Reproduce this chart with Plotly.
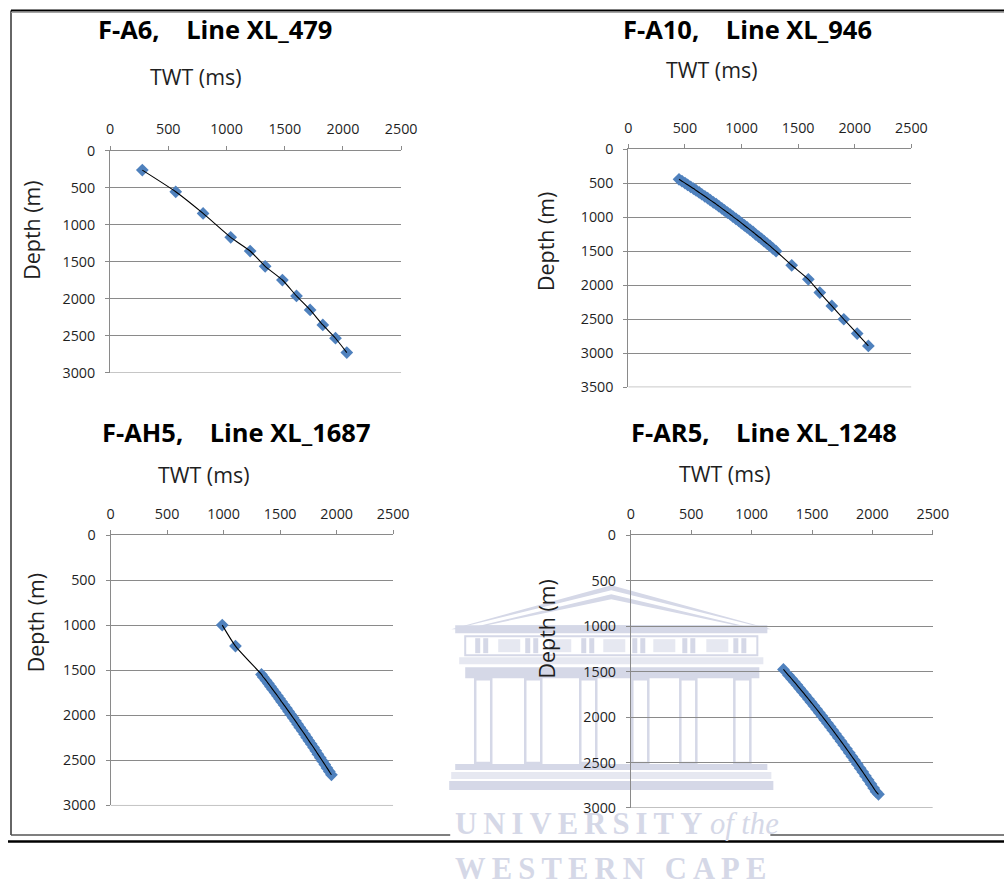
import plotly.graph_objects as go

# Layout is specified in page pixels; the rendered page comes out at 98 %
# with an 8 px top offset, so page pixels are converted back to figure pixels.
PAGE_W, PAGE_H = 1004, 884
S, OX, OY = 0.98, 1.0, 8.0
W = round((PAGE_W - OX) / S)
H = round((PAGE_H - OY) / S)

# ---- Time-depth pairs per well: two-way time (ms) and depth (m) ----
a6_twt = [277, 564, 799, 1036, 1203, 1332, 1480, 1601, 1718, 1827, 1936, 2033]
a6_depth = [261, 554, 847, 1171, 1356, 1563, 1748, 1964, 2153, 2356, 2536, 2730]

a10_twt = [448, 474, 501, 524, 551, 576, 599, 626, 649, 676,
           701, 724, 751, 776, 799, 826, 849, 876, 901, 924,
           951, 976, 999, 1026, 1049, 1076, 1101, 1124, 1151, 1176,
           1199, 1226, 1251, 1276, 1305, 1443, 1590, 1691, 1797, 1903,
           2021, 2120]
a10_depth = [441, 469, 497, 522, 551, 577, 605, 635, 661, 691,
             719, 747, 779, 806, 836, 869, 897, 930, 959, 990,
             1024, 1053, 1085, 1120, 1150, 1185, 1216, 1250, 1286, 1317,
             1352, 1388, 1421, 1458, 1499, 1706, 1912, 2108, 2304, 2500,
             2711, 2892]

ah5_twt = [988, 1105, 1335, 1352, 1375, 1396, 1415, 1433, 1455, 1476,
           1495, 1513, 1535, 1556, 1575, 1594, 1615, 1636, 1655, 1674,
           1695, 1716, 1735, 1754, 1775, 1796, 1815, 1834, 1855, 1876,
           1895, 1914, 1935, 1954]
ah5_depth = [997, 1230, 1545, 1576, 1611, 1646, 1679, 1710, 1746, 1782,
             1815, 1848, 1885, 1921, 1955, 1989, 2026, 2063, 2098, 2133,
             2170, 2208, 2244, 2280, 2318, 2356, 2393, 2430, 2469, 2508,
             2545, 2583, 2622, 2659]

ar5_twt = [1263, 1305, 1330, 1352, 1375, 1398, 1420, 1445, 1470, 1492,
           1515, 1538, 1560, 1582, 1605, 1628, 1650, 1672, 1695, 1718,
           1740, 1762, 1785, 1808, 1830, 1852, 1875, 1898, 1920, 1942,
           1965, 1988, 2010, 2030, 2050]
ar5_depth = [1476, 1540, 1578, 1612, 1648, 1685, 1720, 1760, 1801, 1837,
             1875, 1914, 1951, 1988, 2028, 2068, 2106, 2145, 2186, 2227,
             2267, 2307, 2349, 2392, 2433, 2474, 2518, 2562, 2604, 2647,
             2692, 2737, 2781, 2821, 2850]

panel_titles = ["F-A6,\u00a0\u00a0\u00a0 Line XL_479",
                "F-A10,\u00a0\u00a0\u00a0 Line XL_946",
                "F-AH5,\u00a0\u00a0\u00a0 Line XL_1687",
                "F-AR5,\u00a0\u00a0\u00a0 Line XL_1248"]
twt_ticks = [0, 500, 1000, 1500, 2000, 2500]
depth_max = [3000, 3500, 3000, 3000]
series = [(a6_twt, a6_depth), (a10_twt, a10_depth),
          (ah5_twt, ah5_depth), (ar5_twt, ar5_depth)]

# ---- Page geometry (page pixels) ----
plot_boxes = [(107, 398, 149, 371), (625, 908, 147.5, 385.7),
              (107.5, 390, 534, 804.5), (627.6, 929.4, 534, 807)]
title_pos = [(212, 27), (744, 27), (233, 431), (761, 431)]
twt_label_pos = [(193, 75), (709, 68), (201, 473), (722, 472)]
depth_label_pos = [(29, 229), (542, 240), (32, 622), (543, 628)]

FONT = "Open Sans"
AXIS_GREY = "#8a8a8a"
MARKER_BLUE = "#4f81bd"
WM = "#d5d8e7"
WM2 = "#e6e8f1"


def fx(x):
    return (x - OX) / S / W


def fy(y):
    return 1 - (y - OY) / S / H


def fs(size):
    return round(size / S, 1)


fig = go.Figure()
layout = dict(width=W, height=H, margin=dict(l=0, r=0, t=0, b=0),
              paper_bgcolor="white", plot_bgcolor="rgba(0,0,0,0)",
              showlegend=False)
annotations = []
shapes = []

for i, ((twt, depth), box, ymax) in enumerate(zip(series, plot_boxes, depth_max)):
    n = "" if i == 0 else str(i + 1)
    xa, ya = "x" + n, "y" + n
    fig.add_trace(go.Scatter(x=twt, y=depth, mode="markers", xaxis=xa, yaxis=ya,
                             marker=dict(symbol="diamond", size=fs(9.6), color=MARKER_BLUE,
                                         line=dict(width=0)),
                             hoverinfo="skip"))
    fig.add_trace(go.Scatter(x=twt, y=depth, mode="lines", xaxis=xa, yaxis=ya,
                             line=dict(color="black", width=1.1, shape="spline", smoothing=0.6),
                             hoverinfo="skip"))
    x0, x1, y0, y1 = box
    tickfont = dict(family=FONT, size=fs(14), color="#1f1f1f")
    layout["xaxis" + n] = dict(domain=[fx(x0), fx(x1)], range=[0, 2500], side="top",
                               anchor=ya, tickvals=twt_ticks, showline=True,
                               linecolor=AXIS_GREY, linewidth=1, ticks="outside",
                               ticklen=4, tickcolor=AXIS_GREY, showgrid=False,
                               zeroline=False, ticklabelstandoff=6, tickfont=tickfont)
    layout["yaxis" + n] = dict(domain=[fy(y1), fy(y0)], range=[ymax, 0], anchor=xa,
                               dtick=500, tick0=0, showline=True, linecolor=AXIS_GREY,
                               linewidth=1, ticks="outside", ticklen=4,
                               tickcolor=AXIS_GREY, showgrid=True, gridcolor=AXIS_GREY,
                               gridwidth=1, zeroline=False, ticklabelstandoff=7,
                               tickfont=tickfont)
    # bottom gridline at the deepest tick
    shapes.append(dict(type="line", xref=xa, yref=ya, x0=0, x1=2500, y0=ymax, y1=ymax,
                       line=dict(color=AXIS_GREY, width=1), layer="below"))
    tx, ty = title_pos[i]
    annotations.append(dict(text="<b>" + panel_titles[i] + "</b>", x=fx(tx), y=fy(ty),
                            xref="paper", yref="paper", showarrow=False,
                            xanchor="center", yanchor="middle",
                            font=dict(family=FONT, size=fs(25), color="black")))
    lx, ly = twt_label_pos[i]
    annotations.append(dict(text="TWT (ms)", x=fx(lx), y=fy(ly), xref="paper",
                            yref="paper", showarrow=False, xanchor="center",
                            yanchor="middle",
                            font=dict(family=FONT, size=fs(21), color="#1f1f1f")))
    dx, dy = depth_label_pos[i]
    annotations.append(dict(text="Depth (m)", x=fx(dx), y=fy(dy), xref="paper",
                            yref="paper", showarrow=False, xanchor="center",
                            yanchor="middle", textangle=-90,
                            font=dict(family=FONT, size=fs(21), color="#1f1f1f")))


def rect(x0, y0, x1, y1, fill, line_color=None, line_width=0, layer="below"):
    shapes.append(dict(type="rect", xref="paper", yref="paper",
                       x0=fx(x0), x1=fx(x1), y0=fy(y1), y1=fy(y0),
                       fillcolor=fill, layer=layer,
                       line=dict(color=line_color or fill, width=line_width)))


def tri(pts, fill):
    p = " L ".join(f"{fx(x):.5f},{fy(y):.5f}" for x, y in pts)
    shapes.append(dict(type="path", xref="paper", yref="paper", path="M " + p + " Z",
                       fillcolor=fill, line=dict(width=0), layer="below"))


def hline(x0, x1, y, color, width):
    shapes.append(dict(type="line", xref="paper", yref="paper",
                       x0=fx(x0), x1=fx(x1), y0=fy(y), y1=fy(y),
                       line=dict(color=color, width=width)))


# University crest watermark (faint building behind the lower panels)
tri([(448, 628), (608, 584), (768, 628)], WM)
tri([(458, 626), (608, 589), (758, 626)], "white")
tri([(470, 626), (608, 593), (746, 626)], WM)
tri([(484, 624), (608, 598), (732, 624)], "white")
rect(452, 624, 764, 632, WM)
rect(462, 635, 754, 654, "white", WM, 2)
for bx in [472, 522, 578, 629, 679, 730]:
    rect(bx, 637, bx + 5, 652, WM)
    rect(bx + 8, 637, bx + 13, 652, WM)
for kx in [495, 546, 600, 650, 703]:
    rect(kx, 638, kx + 22, 651, WM2)
rect(456, 656, 760, 663, WM2)
rect(462, 666, 756, 677, WM)
for cx in [472, 522, 577, 629, 677, 731]:
    rect(cx, 678, cx + 16, 762, "white", WM, 2.5)
rect(452, 763, 764, 769, WM)
rect(448, 771, 768, 778, WM2)
rect(446, 780, 770, 789, WM)

ts = "\u2009"
annotations.append(dict(text="<b>" + ts.join("UNIVERSITY") + "</b> <i>of the</i>",
                        x=fx(450), y=fy(823), xref="paper", yref="paper",
                        showarrow=False, xanchor="left", yanchor="middle",
                        font=dict(family="Liberation Serif", size=fs(30), color=WM)))
annotations.append(dict(text="<b>" + ts.join("WESTERN") + " " + ts * 2 + ts.join("CAPE") + "</b>",
                        x=fx(450), y=fy(868), xref="paper", yref="paper",
                        showarrow=False, xanchor="left", yanchor="middle",
                        font=dict(family="Liberation Serif", size=fs(30), color=WM)))

# Page frame
shapes.append(dict(type="line", xref="paper", yref="paper", x0=fx(8), x1=fx(8),
                   y0=fy(8.5), y1=fy(834), line=dict(color="#333333", width=1.5)))
hline(8, 1004, 8.6, "black", 2)
hline(8, 1004, 10.4, "#9a9a9a", 1)
hline(8, 447, 834, "#555555", 1.5)
hline(767, 1004, 834, "#555555", 1.5)
hline(5, 1004, 840.5, "black", 2.5)

layout["annotations"] = annotations
layout["shapes"] = shapes
fig.update_layout(**layout)

fig.write_html("out.html")
